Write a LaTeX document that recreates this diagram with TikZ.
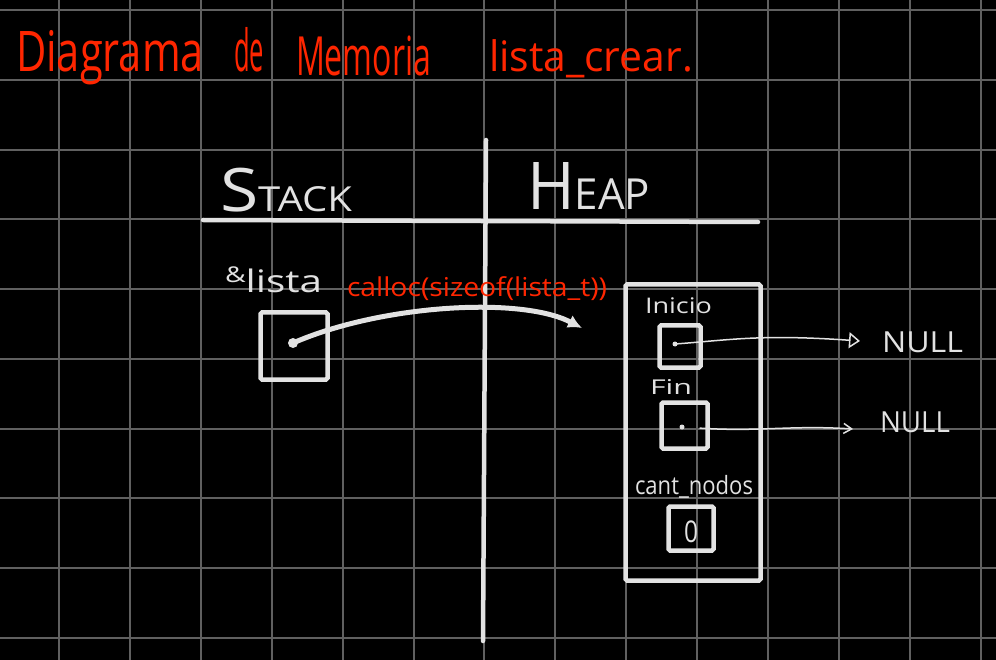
\documentclass[tikz,border=0pt]{standalone}
\usepackage{fontspec}
\usepackage{graphicx}
\setmainfont{Open Sans}
\usetikzlibrary{arrows.meta}
\definecolor{chalk}{RGB}{226,226,226}
\definecolor{ink}{RGB}{255,38,0}
\definecolor{gridc}{RGB}{96,96,96}
\newcommand{\fitto}[3]{\resizebox*{#1pt}{#2pt}{#3}}
\newcommand{\fitw}[3]{{\fontsize{#2}{#2}\selectfont\resizebox{#1pt}{\height}{#3}}}
\begin{document}
\begin{tikzpicture}[x=1pt,y=-1pt,
  gridline/.style={draw=gridc, line width=2pt},
  rule/.style={draw=chalk, line width=4.5pt, line cap=round},
  cell/.style={draw=chalk, line width=4.5pt, rounded corners=1.5pt, inner sep=0pt, outer sep=0pt},
  dotn/.style={circle, fill=chalk, inner sep=0pt},
  lbl/.style={inner sep=0pt, outer sep=0pt, anchor=north west, text=chalk},
  redlbl/.style={inner sep=0pt, outer sep=0pt, anchor=base west, text=ink},
  thinarrow/.style={draw=chalk, line width=1.5pt, line cap=round}
]
\useasboundingbox (0,0) rectangle (996,660);
\fill[black] (0,0) rectangle (996,660);
% grid
\foreach \i in {0,...,13} \draw[gridline] ({59+70.9*\i},0) -- ({59+70.9*\i},660);
\foreach \j in {0,...,9} \draw[gridline] (0,{10.3+69.7*\j}) -- (996,{10.3+69.7*\j});
% title
\node[redlbl] (t1) at (16,72) {\fitw{188}{56}{Diagrama}};
\node[redlbl] (t2) at (234,72) {\fitw{30}{58}{de}};
\node[redlbl] (t3) at (296,76) {\fitw{135}{54}{Memoria}};
\node[redlbl] (t4) at (489,72) {\fitw{204}{42}{lista\_crear.}};
% stack / heap rules
\coordinate (vtop) at (486,140);
\coordinate (vbot) at (483,641);
\coordinate (hl) at (203,220);
\coordinate (hr) at (758,222);
\draw[rule] (vtop) -- (vbot);
\draw[rule] (hl) -- (hr);
\node[lbl] (stack) at (220,168) {\fitto{132}{44}{\fontsize{40}{40}\selectfont S\fontsize{23}{23}\selectfont TACK}};
\node[lbl] (heap) at (527,163) {\fitto{123}{47}{\fontsize{40}{40}\selectfont H\fontsize{26}{26}\selectfont EAP}};
% stack variable
\node[lbl] (listalbl) at (225,267) {\fitto{97}{26}{\raisebox{0.6ex}{\scriptsize\&}lista}};
\node[cell, minimum width=67pt, minimum height=67pt] (lista) at (294,346) {};
\node[dotn, minimum size=10pt] (ldot) at (293,343) {};
\node[lbl, text=ink] (calloc) at (347,277) {\fitto{260}{24}{calloc(sizeof(lista\_t))}};
\coordinate (calloctip) at (582,328);
\draw[draw=chalk, line width=5pt, line cap=round, -{Latex[length=14pt,width=14pt]}] (ldot.center) .. controls (380,305) and (520,296) .. (calloctip);
% heap struct
\node[cell, minimum width=135pt, minimum height=296pt] (heapbox) at (693,432.5) {};
\node[lbl] (inilbl) at (645,298) {\fitto{67}{16}{Inicio}};
\node[cell, minimum width=41pt, minimum height=42pt] (inicio) at (680,346.5) {};
\node[dotn, minimum size=5pt] (idot) at (675,344) {};
\node[lbl] (finlbl) at (650,379) {\fitto{42}{15}{Fin}};
\node[cell, minimum width=46pt, minimum height=46pt] (fin) at (684.5,425.5) {};
\node[dotn, minimum size=5pt] (fdot) at (682,427) {};
\node[lbl] (cantlbl) at (635,475) {\fitto{118}{23}{cant\_nodos}};
\node[cell, minimum width=45pt, minimum height=44pt] (cant) at (691,528.5) {};
\node[lbl, anchor=center] (zero) at (691,532) {\fitto{14}{22}{0}};
% NULL pointers
\node[lbl] (null1) at (882,332) {\fitto{81}{21}{NULL}};
\node[lbl] (null2) at (880,412) {\fitto{70}{21}{NULL}};
\coordinate (n1tip) at (860,341);
\coordinate (n2tip) at (853,429);
\draw[thinarrow, -{Triangle[open,length=11pt,width=16pt]}] (idot.center) .. controls (730,340) and (760,334) .. (n1tip);
\draw[thinarrow, shorten <=18pt, -{Straight Barb[length=8pt,width=10pt]}] (fdot.center) .. controls (760,432) and (790,425) .. (n2tip);
\end{tikzpicture}
\end{document}
